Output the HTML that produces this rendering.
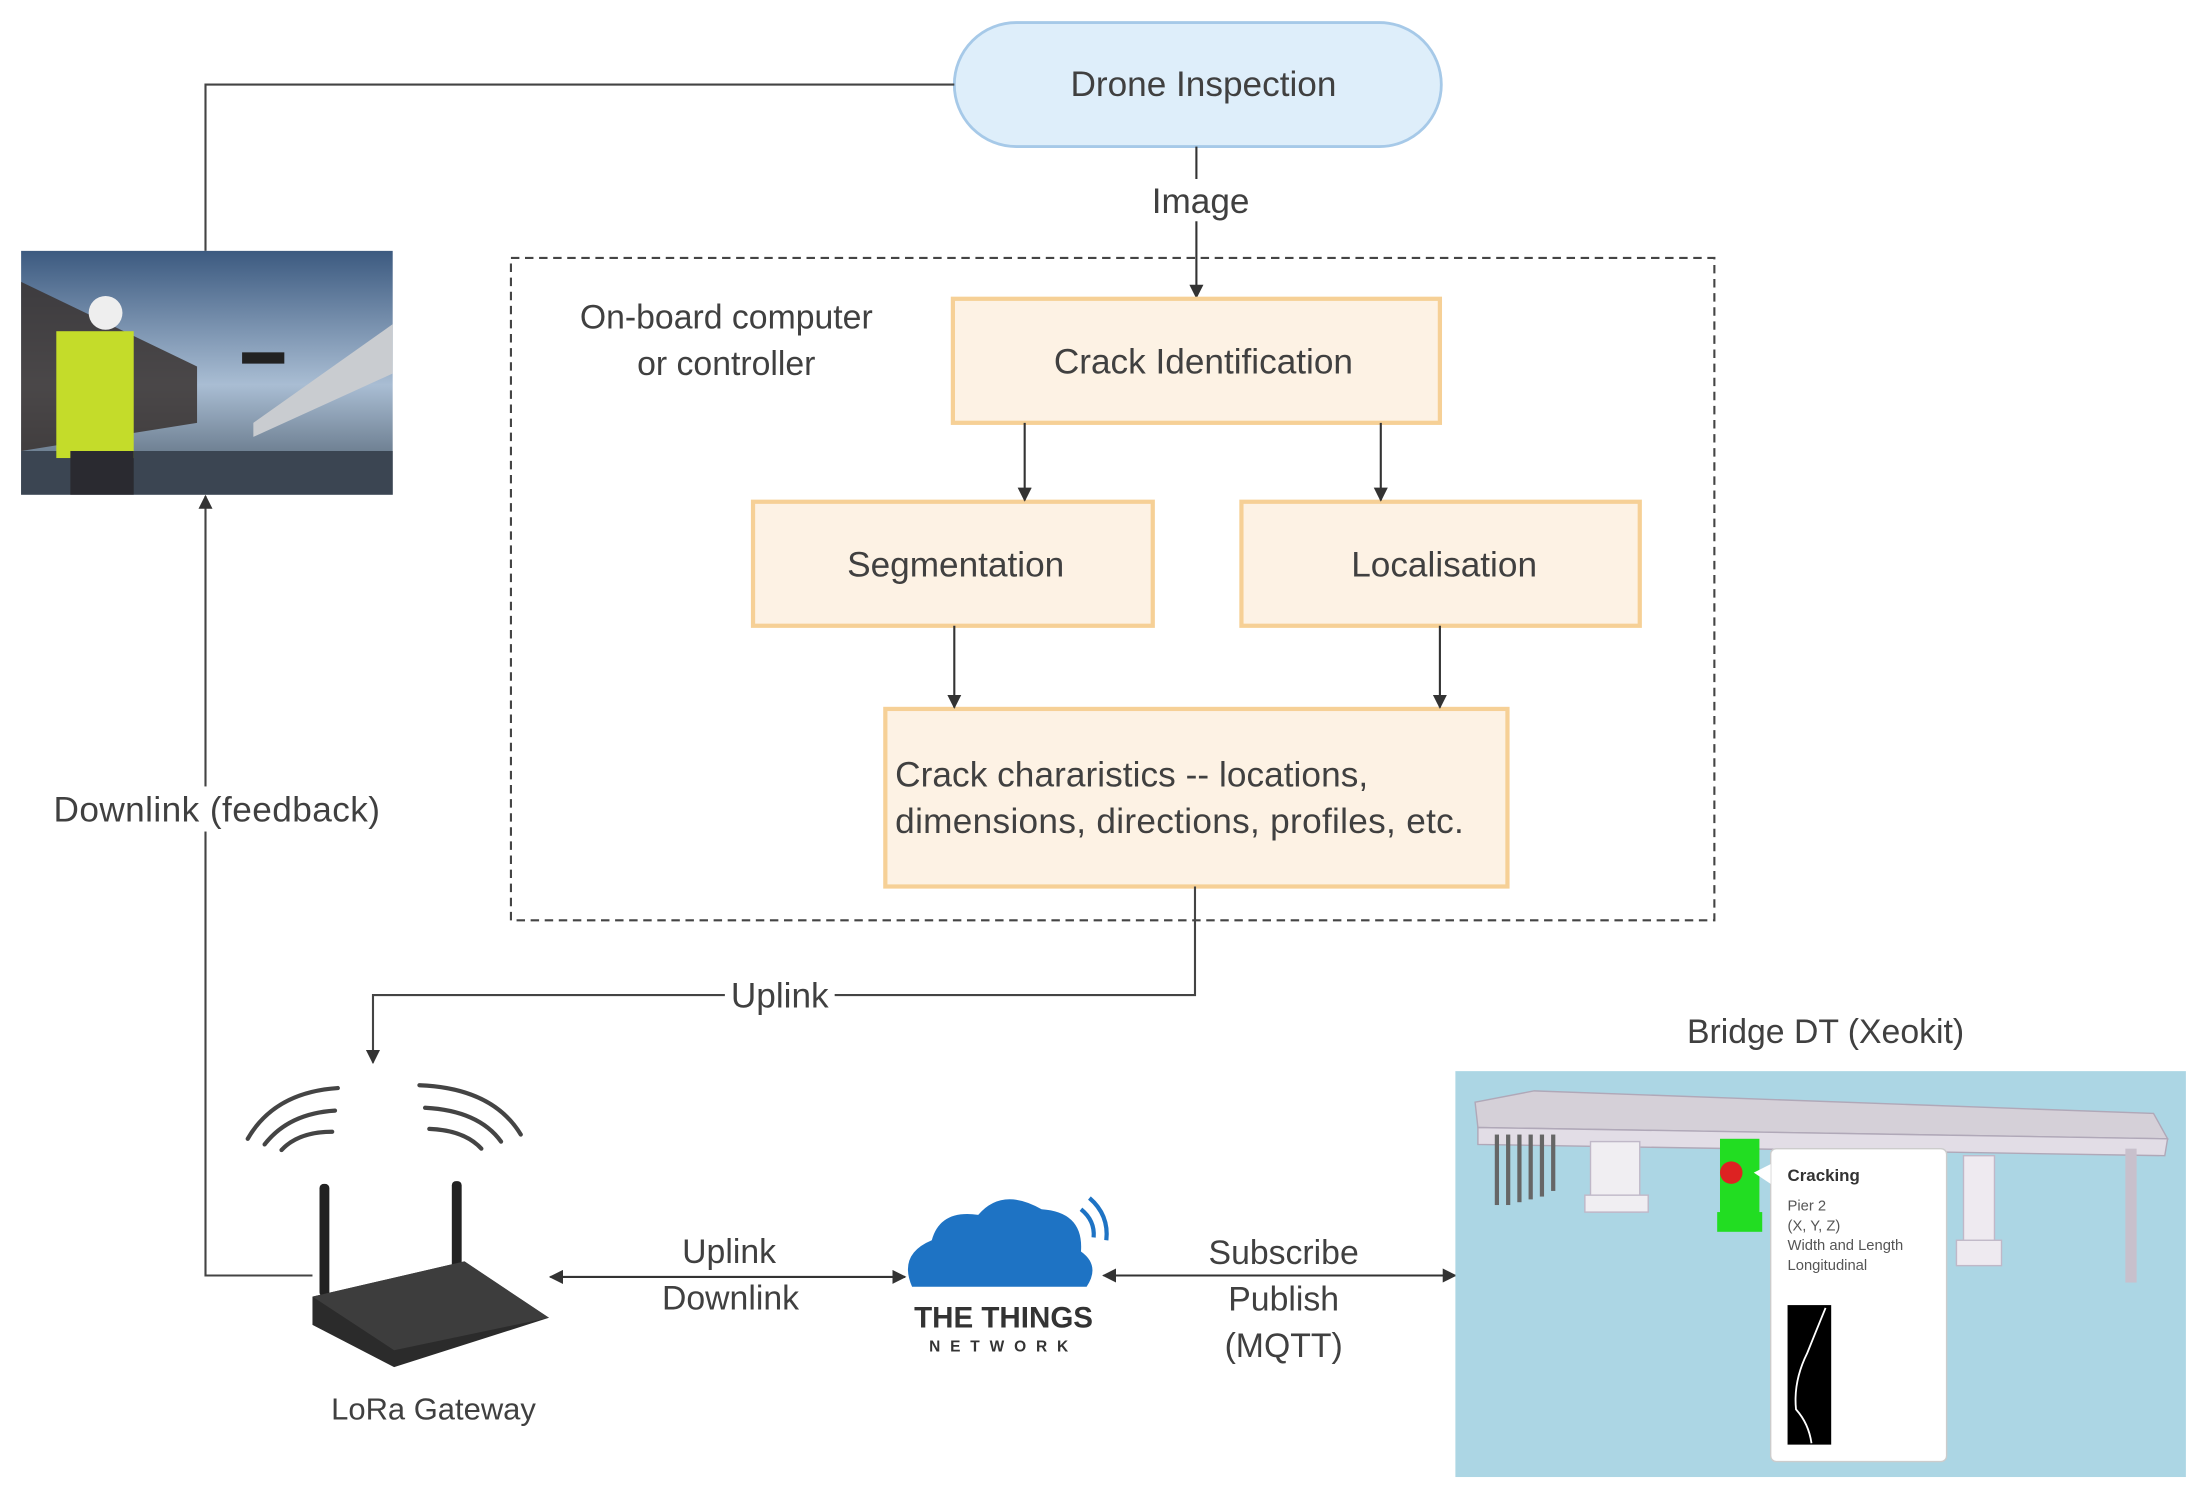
<!DOCTYPE html>
<html><head><meta charset="utf-8"><style>
html,body{margin:0;padding:0;background:#fff;}
svg{display:block;}
text{font-family:"Liberation Sans","DejaVu Sans",sans-serif;fill:#404040;}
</style></head><body>
<svg width="2207" height="1501" viewBox="0 0 1568 1065" preserveAspectRatio="none" xmlns="http://www.w3.org/2000/svg">
<defs>
<marker id="ah" markerWidth="10" markerHeight="10" refX="9" refY="5" orient="auto" markerUnits="userSpaceOnUse">
<path d="M0,0 L10,5 L0,10 z" fill="#333"/></marker>
<marker id="ahs" markerWidth="10" markerHeight="10" refX="1" refY="5" orient="auto" markerUnits="userSpaceOnUse">
<path d="M10,0 L0,5 L10,10 z" fill="#333"/></marker>
<linearGradient id="sky" x1="0" y1="0" x2="0" y2="1"><stop offset="0" stop-color="#3c5a80"/><stop offset="0.55" stop-color="#a9bdd3"/><stop offset="1" stop-color="#4a5a6a"/></linearGradient>
</defs>
<rect width="1568" height="1065" fill="#fff"/>

<rect x="678" y="16" width="346" height="88" rx="44" fill="#deeefa" stroke="#a6c9e8" stroke-width="2"/>
<text x="855" y="68" font-size="25" text-anchor="middle">Drone Inspection</text>
<polyline points="678,60 146,60 146,178" fill="none" stroke="#444" stroke-width="1.5"/>
<line x1="850" y1="104" x2="850" y2="211" stroke="#333" stroke-width="1.5" marker-end="url(#ah)"/>
<rect x="816" y="127" width="74" height="30" fill="#fff"/>
<text x="853" y="151" font-size="25" text-anchor="middle">Image</text>

<rect x="15" y="178" width="264" height="173" fill="url(#sky)"/>
<polygon points="15,200 140,260 140,300 15,320" fill="#3a3330" opacity="0.85"/>
<polygon points="180,300 279,230 279,265 180,310" fill="#c9ccd0"/>
<rect x="15" y="320" width="264" height="31" fill="#3b4552"/>
<rect x="40" y="235" width="55" height="90" fill="#c4dc2a"/>
<circle cx="75" cy="222" r="12" fill="#eee"/>
<rect x="50" y="320" width="45" height="31" fill="#2a2a30"/>
<rect x="172" y="250" width="30" height="8" fill="#222"/>

<rect x="363" y="183" width="855" height="470" fill="none" stroke="#444" stroke-width="1.5" stroke-dasharray="6,4"/>
<text x="516" y="233" font-size="24" text-anchor="middle">On-board computer</text>
<text x="516" y="266" font-size="24" text-anchor="middle">or controller</text>

<g fill="#fdf2e4" stroke="#f6d096" stroke-width="3">
<rect x="677" y="212" width="346" height="88"/>
<rect x="535" y="356" width="284" height="88"/>
<rect x="882" y="356" width="283" height="88"/>
<rect x="629" y="503" width="442" height="126"/>
</g>
<text x="855" y="265" font-size="25" text-anchor="middle">Crack Identification</text>
<text x="679" y="409" font-size="25" text-anchor="middle">Segmentation</text>
<text x="1026" y="409" font-size="25" text-anchor="middle">Localisation</text>
<text x="636" y="558" font-size="25" textLength="336">Crack chararistics -- locations,</text>
<text x="636" y="591" font-size="25" textLength="404">dimensions, directions, profiles, etc.</text>
<g stroke="#333" stroke-width="1.5" marker-end="url(#ah)">
<line x1="728" y1="300" x2="728" y2="355"/>
<line x1="981" y1="300" x2="981" y2="355"/>
<line x1="678" y1="444" x2="678" y2="502"/>
<line x1="1023" y1="444" x2="1023" y2="502"/>
</g>

<polyline points="849,629 849,706 265,706 265,754" fill="none" stroke="#444" stroke-width="1.5" marker-end="url(#ah)"/>
<rect x="515" y="691" width="78" height="30" fill="#fff"/>
<text x="554" y="715" font-size="25" text-anchor="middle">Uplink</text>

<polyline points="222,905 146,905 146,352" fill="none" stroke="#444" stroke-width="1.5" marker-end="url(#ah)"/>
<rect x="36" y="558" width="236" height="32" fill="#fff"/>
<text x="154" y="583" font-size="25" text-anchor="middle" textLength="232">Downlink (feedback)</text>

<g fill="none" stroke="#444" stroke-width="3" stroke-linecap="round">
<path d="M176,808 Q195,775 240,772"/><path d="M188,812 Q205,790 238,788"/><path d="M200,816 Q212,803 236,803"/>
<path d="M370,805 Q350,772 298,770"/><path d="M356,810 Q340,788 302,786"/><path d="M342,815 Q330,802 305,801"/>
</g>
<rect x="227" y="840" width="7" height="80" rx="3" fill="#222"/>
<rect x="321" y="838" width="7" height="80" rx="3" fill="#222"/>
<polygon points="222,920 330,895 390,935 280,970 222,940" fill="#2b2b2b"/>
<polygon points="222,920 330,895 390,935 280,958" fill="#3d3d3d"/>
<text x="308" y="1007" font-size="22" text-anchor="middle">LoRa Gateway</text>

<line x1="391" y1="906" x2="643" y2="906" stroke="#333" stroke-width="1.5" marker-start="url(#ahs)" marker-end="url(#ah)"/>
<text x="518" y="896" font-size="24" text-anchor="middle">Uplink</text>
<text x="519" y="929" font-size="24" text-anchor="middle">Downlink</text>

<path d="M648,913 Q638,890 662,880 Q668,858 695,862 Q712,842 740,858 Q770,860 768,888 Q782,898 772,913 Z" fill="#1e73c4"/>
<path d="M768,858 Q778,866 777,878" fill="none" stroke="#1e73c4" stroke-width="3"/>
<path d="M774,850 Q788,862 786,880" fill="none" stroke="#1e73c4" stroke-width="3"/>
<text x="713" y="942" font-size="21" font-weight="bold" text-anchor="middle" style="fill:#333">THE THINGS</text>
<text x="713" y="959" font-size="11" font-weight="bold" text-anchor="middle" letter-spacing="7" style="fill:#333">NETWORK</text>

<line x1="784" y1="905" x2="1034" y2="905" stroke="#333" stroke-width="1.5" marker-start="url(#ahs)" marker-end="url(#ah)"/>
<text x="912" y="897" font-size="24" text-anchor="middle">Subscribe</text>
<text x="912" y="930" font-size="24" text-anchor="middle">Publish</text>
<text x="912" y="963" font-size="24" text-anchor="middle">(MQTT)</text>

<text x="1297" y="740" font-size="24" text-anchor="middle">Bridge DT (Xeokit)</text>
<rect x="1034" y="760" width="519" height="288" fill="#acd6e4"/>
<polygon points="1048,782 1090,774 1530,790 1540,808 1050,800" fill="#d5d0d8" stroke="#b0a8b8"/>
<polygon points="1050,800 1540,808 1538,820 1050,812" fill="#e2dde6" stroke="#b0a8b8"/>
<g fill="#666"><rect x="1062" y="805" width="3" height="50"/><rect x="1070" y="805" width="3" height="50"/><rect x="1078" y="805" width="3" height="48"/><rect x="1086" y="805" width="3" height="46"/><rect x="1094" y="805" width="3" height="44"/><rect x="1102" y="805" width="3" height="40"/></g>
<rect x="1130" y="810" width="35" height="50" fill="#f0eef2" stroke="#c0b8c8"/>
<rect x="1126" y="848" width="45" height="12" fill="#f0eef2" stroke="#c0b8c8"/>
<rect x="1222" y="808" width="28" height="65" fill="#22dd22"/>
<rect x="1220" y="860" width="32" height="14" fill="#22dd22"/>
<circle cx="1230" cy="832" r="8" fill="#dd2222"/>
<rect x="1395" y="820" width="22" height="72" fill="#eeeaf0" stroke="#c0b8c8"/>
<rect x="1390" y="880" width="32" height="18" fill="#eeeaf0" stroke="#c0b8c8"/>
<rect x="1510" y="815" width="8" height="95" fill="#c8c0cc"/>
<rect x="1258" y="815" width="125" height="222" rx="4" fill="#fff" stroke="#ccc"/>
<polygon points="1258,826 1246,832 1258,840" fill="#fff"/>
<text x="1270" y="838" font-size="12" font-weight="bold" style="fill:#333">Cracking</text>
<text x="1270" y="859" font-size="10.5" style="fill:#555">Pier 2</text>
<text x="1270" y="873" font-size="10.5" style="fill:#555">(X, Y, Z)</text>
<text x="1270" y="887" font-size="10.5" style="fill:#555">Width and Length</text>
<text x="1270" y="901" font-size="10.5" style="fill:#555">Longitudinal</text>
<rect x="1270" y="926" width="31" height="99" fill="#000"/>
<path d="M1297,928 Q1290,945 1284,960 Q1274,980 1276,1000 Q1285,1010 1287,1024" fill="none" stroke="#fff" stroke-width="1.3"/>
</svg>
</body></html>
